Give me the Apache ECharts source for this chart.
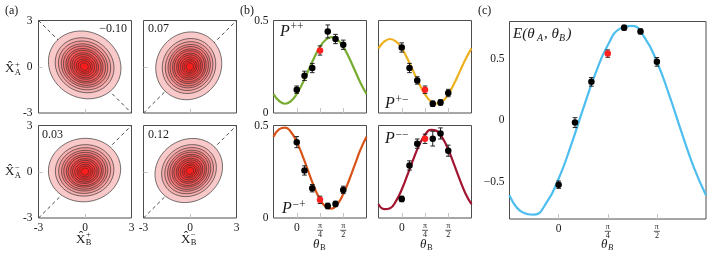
<!DOCTYPE html>
<html><head><meta charset="utf-8">
<script src="https://cdn.jsdelivr.net/npm/echarts@6/dist/echarts.min.js"></script>
<style>html,body{margin:0;padding:0;background:#fff}#c{width:707px;height:255px}</style>
</head><body><div id="c"></div>
<script>
// ================= DATA =================
// (b),(c): measured angles theta_B in degrees (0 .. pi/2), highlighted point at pi/4
const thetaB = [0, 15, 30, 45, 60, 75, 90];
const redIndex = 3;
const pPP = [0.126, 0.201, 0.243, 0.338, 0.441, 0.400, 0.369];
const ePP = [0.020, 0.025, 0.025, 0.025, 0.035, 0.025, 0.025];
const pPM = [0.354, 0.243, 0.176, 0.126, 0.050, 0.057, 0.108];
const ePM = [0.025, 0.025, 0.020, 0.020, 0.015, 0.015, 0.020];
const pMP = [0.410, 0.257, 0.161, 0.098, 0.065, 0.076, 0.152];
const eMP = [0.030, 0.025, 0.020, 0.020, 0.015, 0.015, 0.020];
const pMM = [0.103, 0.284, 0.402, 0.428, 0.429, 0.457, 0.364];
const eMM = [0.015, 0.025, 0.025, 0.025, 0.040, 0.030, 0.030];
const valE = [-0.522, -0.019, 0.311, 0.540, 0.750, 0.720, 0.473];
const errE = [0.030, 0.040, 0.035, 0.030, 0.020, 0.020, 0.035];

// fitted curves, every pi/16 from -pi/4 to 3pi/4
const fitTheta = [-45, -33.75, -22.5, -11.25, 0, 11.25, 22.5, 33.75, 45, 56.25, 67.5, 78.75, 90, 101.25, 112.5, 123.75, 135];
const fitPP = [0.103, 0.064, 0.050, 0.064, 0.103, 0.161, 0.230, 0.299, 0.357, 0.396, 0.410, 0.396, 0.357, 0.299, 0.230, 0.161, 0.103];
const fitPM = [0.349, 0.387, 0.400, 0.387, 0.349, 0.292, 0.225, 0.158, 0.101, 0.063, 0.050, 0.063, 0.101, 0.158, 0.225, 0.292, 0.349];
const fitMP = [0.439, 0.480, 0.489, 0.465, 0.411, 0.336, 0.251, 0.168, 0.101, 0.060, 0.051, 0.075, 0.129, 0.204, 0.289, 0.372, 0.439];
const fitMM = [0.075, 0.048, 0.053, 0.091, 0.154, 0.234, 0.318, 0.394, 0.449, 0.476, 0.471, 0.433, 0.370, 0.290, 0.206, 0.130, 0.075];
const fitE  = [-0.607, -0.742, -0.764, -0.670, -0.474, -0.206, 0.094, 0.379, 0.607, 0.742, 0.764, 0.670, 0.474, 0.206, -0.094, -0.379, -0.607];

// tick values / labels
const thetaTicks = [0, 45, 90];
const thetaTickDen = ['', '4', '2'];
const quadTicks = [-3, 0, 3];
const probTicks = [0, 0.5];
const corrTicks = [-0.5, 0, 0.5];

// (a) contour panels: relative radius of each contour level, outer ellipse semi-axes, centres, correlations
const ringFrac = [1, 0.81, 0.72, 0.64, 0.58, 0.51, 0.46, 0.39, 0.34, 0.28, 0.22, 0.17, 0.11];
const corrLabels = ['\u22120.10', '0.07', '0.03', '0.12'];
const corrValues = [-0.10, 0.07, 0.03, 0.12];
const outerRx = [2.34, 2.13, 2.33, 2.18];
const outerRy = [2.20, 2.20, 2.06, 2.08];
const outerCx = [-0.02, -0.08, -0.03, -0.08];
const outerCy = [0.12, 0.06, 0.11, 0.08];
const innerCx = [-0.05, 0.00, 0.00, 0.00];
const innerCy = [0.00, 0.00, 0.00, 0.05];
const diagSign = [-1, 1, 1, 1];

// ================= STYLE =================
const FONT = '"Liberation Serif","DejaVu Serif",serif';
const INK = '#1a1a1a';
const ringColors = ['#f9c8c8','#f6b0b0','#f49a9a','#f38686','#f27474','#f26464','#f25656','#f34a4a','#f53f3f','#f73535','#f92c2c','#fb2424','#fd1d1d'];
const curveColors = ['#77ac30', '#edb120', '#d95319', '#a2142f'];
const eColor = '#4dbeee';

const gridBoxes = [
  [38.5, 20.5, 93, 92.5], [143.5, 20.5, 93, 92.5], [38.5, 125.5, 93, 92.5], [143.5, 125.5, 93, 92.5],
  [273.5, 20.5, 93, 92.5], [378.5, 20.5, 93, 92.5], [273.5, 125.5, 93, 92.5], [378.5, 125.5, 93, 92.5],
  [509.5, 21.5, 196.5, 197.5]
];
const grids = gridBoxes.map(b => ({left:b[0], top:b[1], width:b[2], height:b[3], show:true,
  borderColor:'#4d4d4d', borderWidth:1, backgroundColor:'transparent', containLabel:false, outerBoundsMode:'none'}));

const lblBase = {fontFamily:FONT, fontSize:11.5, color:INK, hideOverlap:false};
const thetaRich = {
  z:{fontFamily:FONT, fontSize:11.5, color:INK},
  n:{fontFamily:FONT, fontSize:8, lineHeight:7.5, color:INK, align:'center'},
  b:{width:6, height:0.8, lineHeight:1.5, backgroundColor:'#333', fontSize:1},
  d:{fontFamily:FONT, fontSize:8, lineHeight:7.5, color:INK, align:'center'}
};
function thetaFmt(v){
  const i = thetaTicks.indexOf(v);
  if (v === 0) return '{z|0}';
  return '{n|\u03c0}\n{b| }\n{d|' + thetaTickDen[i] + '}';
}
function minusFmt(v){ return v < 0 ? '-' + (-v) : String(v); }
function mathMinusFmt(v){ return v < 0 ? '\u2212' + (-v) : String(v); }
const noLine = {show:false, onZero:false};

const xAxes = [], yAxes = [];
for (let i = 0; i < 4; i++) {
  const bottom = i >= 2, left = i % 2 === 0;
  xAxes.push({gridIndex:i, type:'value', position:'bottom', min:-3, max:3, axisLine:noLine, splitLine:{show:false},
    axisTick:{show:true, inside:true, length:4, customValues:[0], lineStyle:{color:'#c4c4c4'}},
    axisLabel:Object.assign({show:bottom, customValues:quadTicks, margin:4, formatter:minusFmt}, lblBase)});
  yAxes.push({gridIndex:i, type:'value', position:'left', min:-3, max:3, axisLine:noLine, splitLine:{show:false},
    axisTick:{show:true, inside:true, length:4, customValues:[0], lineStyle:{color:'#c4c4c4'}},
    axisLabel:Object.assign({show:left, customValues:quadTicks, margin:6, formatter:minusFmt}, lblBase)});
}
for (let i = 4; i < 8; i++) {
  const bottom = i >= 6, left = i % 2 === 0;
  xAxes.push({gridIndex:i, type:'value', position:'bottom', min:-45, max:135, axisLine:noLine, splitLine:{show:false},
    axisTick:{show:true, inside:true, length:5, customValues:thetaTicks, lineStyle:{color:'#c4c4c4'}},
    axisLabel:{show:bottom, customValues:thetaTicks, margin:4, formatter:thetaFmt, rich:thetaRich}});
  yAxes.push({gridIndex:i, type:'value', position:'left', min:0, max:0.5, axisLine:noLine, splitLine:{show:false},
    axisTick:{show:false},
    axisLabel:Object.assign({show:left, customValues:probTicks, margin:5}, lblBase)});
}
xAxes.push({gridIndex:8, type:'value', position:'bottom', min:-45, max:135, axisLine:noLine, splitLine:{show:false},
  axisTick:{show:true, inside:true, length:5, customValues:thetaTicks, lineStyle:{color:'#c4c4c4'}},
  axisLabel:{show:true, customValues:thetaTicks, margin:4, formatter:thetaFmt, rich:thetaRich}});
yAxes.push({gridIndex:8, type:'value', position:'left', min:-0.8, max:0.8, axisLine:noLine, splitLine:{show:false},
  axisTick:{show:false},
  axisLabel:Object.assign({show:true, customValues:corrTicks, margin:5, formatter:mathMinusFmt}, lblBase)});

const series = [];
// ---- (a) contours ----
for (let p = 0; p < 4; p++) {
  series.push({type:'line', xAxisIndex:p, yAxisIndex:p, z:1, silent:true, showSymbol:false,
    data:[[-3, -3 * diagSign[p]], [3, 3 * diagSign[p]]],
    lineStyle:{color:'#333', width:0.9, type:[3.5, 3]}});
  series.push({type:'custom', xAxisIndex:p, yAxisIndex:p, z:2, silent:true,
    data: ringFrac.map(f => [0, 0, f]),
    encode:{x:0, y:1},
    renderItem:(params, api) => {
      const k = params.dataIndex, f = ringFrac[k];
      const cx = innerCx[p] + (outerCx[p] - innerCx[p]) * f;
      const cy = innerCy[p] + (outerCy[p] - innerCy[p]) * f;
      const rho = corrValues[p], s = Math.sqrt(1 - rho * rho);
      const pts = [];
      for (let j = 0; j < 72; j++) {
        const a = 2 * Math.PI * j / 72;
        pts.push(api.coord([cx + outerRx[p] * f * Math.cos(a),
                            cy + outerRy[p] * f * (rho * Math.cos(a) + s * Math.sin(a))]));
      }
      return {type:'polygon', shape:{points:pts}, style:{fill:ringColors[k], stroke:'#2b2b2b', lineWidth:0.65}};
    }});
}
// ---- (b),(c) ----
function addPanel(idx, fit, vals, errs, color) {
  series.push({type:'line', xAxisIndex:idx, yAxisIndex:idx, z:2, silent:true, showSymbol:false, smooth:true,
    data: fitTheta.map((t, i) => [t, fit[i]]), lineStyle:{color:color, width:2.2}});
  series.push({type:'custom', xAxisIndex:idx, yAxisIndex:idx, z:3, silent:true,
    data: thetaB.map((t, i) => [t, vals[i], errs[i]]), encode:{x:0, y:1},
    renderItem:(params, api) => {
      const x = api.value(0), y = api.value(1), e = api.value(2);
      const lo = api.coord([x, y - e]), hi = api.coord([x, y + e]);
      const w = 2.3, st = {stroke:'#222', lineWidth:1};
      return {type:'group', children:[
        {type:'line', shape:{x1:lo[0], y1:lo[1], x2:hi[0], y2:hi[1]}, style:st},
        {type:'line', shape:{x1:lo[0]-w, y1:lo[1], x2:lo[0]+w, y2:lo[1]}, style:st},
        {type:'line', shape:{x1:hi[0]-w, y1:hi[1], x2:hi[0]+w, y2:hi[1]}, style:st}]};
    }});
  series.push({type:'scatter', xAxisIndex:idx, yAxisIndex:idx, z:4, silent:true, symbolSize:6.5,
    data: thetaB.map((t, i) => i === redIndex ? {value:[t, vals[i]], itemStyle:{color:'#ff2020', opacity:1}} : [t, vals[i]]),
    itemStyle:{color:'#000', opacity:1}});
}
addPanel(4, fitPP, pPP, ePP, curveColors[0]);
addPanel(5, fitPM, pPM, ePM, curveColors[1]);
addPanel(6, fitMP, pMP, eMP, curveColors[2]);
addPanel(7, fitMM, pMM, eMM, curveColors[3]);
addPanel(8, fitE, valE, errE, eColor);

// ---- texts ----
function txt(x, y, text, font, align) {
  return {type:'text', x:x, y:y, silent:true, z:50, style:{text:text, font:font, fill:INK,
    textAlign:align || 'left', align:align || 'left', textVerticalAlign:'middle', verticalAlign:'middle'}};
}
const F = (s, it) => (it ? 'italic ' : '') + s + 'px ' + FONT;
function xhat(x, y, sup, sub) {
  return {type:'group', x:x, y:y, children:[
    txt(0, 0, 'X\u0302', F(13)), txt(10, -4.5, sup, F(8.5)), txt(9.8, 3.5, sub, F(8.5))]};
}
function pLabel(x, y, sup) {
  return {type:'group', x:x, y:y, children:[txt(0, 0, 'P', F(16, true)), txt(10.5, -4.5, sup, F(11.5))]};
}
const graphics = [
  txt(5, 11, '(a)', F(12)), txt(240, 11, '(b)', F(12)), txt(478, 11, '(c)', F(12)),
  txt(127, 29, corrLabels[0], F(12), 'right'), txt(148, 29, corrLabels[1], F(12)),
  txt(42, 135, corrLabels[2], F(12)), txt(148, 135, corrLabels[3], F(12)),
  xhat(5, 69, '+', 'A'), xhat(5, 172, '\u2212', 'A'),
  xhat(76, 239.5, '+', 'B'), xhat(181, 239.5, '\u2212', 'B'),
  pLabel(280, 31.5, '++'), pLabel(385, 104, '+\u2212'), pLabel(282, 209, '\u2212+'), pLabel(385, 139, '\u2212\u2212'),
  {type:'group', x:313, y:245, children:[txt(0, 0, '\u03b8', F(13, true)), txt(7, 3, 'B', F(8.5))]},
  {type:'group', x:420, y:245, children:[txt(0, 0, '\u03b8', F(13, true)), txt(7, 3, 'B', F(8.5))]},
  {type:'group', x:601, y:245, children:[txt(0, 0, '\u03b8', F(13, true)), txt(7, 3, 'B', F(8.5, true))]},
  {type:'group', x:513, y:34, children:[
    txt(0, 0, 'E(\u03b8', F(15, true)), txt(24, 4, 'A', F(10, true)), txt(31, 0, ', \u03b8', F(15, true)),
    txt(46, 4, 'B', F(10, true)), txt(53.5, 0, ')', F(15, true))]}
];

const chart = echarts.init(document.getElementById('c'), null, {renderer:'canvas'});
chart.setOption({animation:false, backgroundColor:'#fff', grid:grids, xAxis:xAxes, yAxis:yAxes, series:series, graphic:graphics});
</script></body></html>
